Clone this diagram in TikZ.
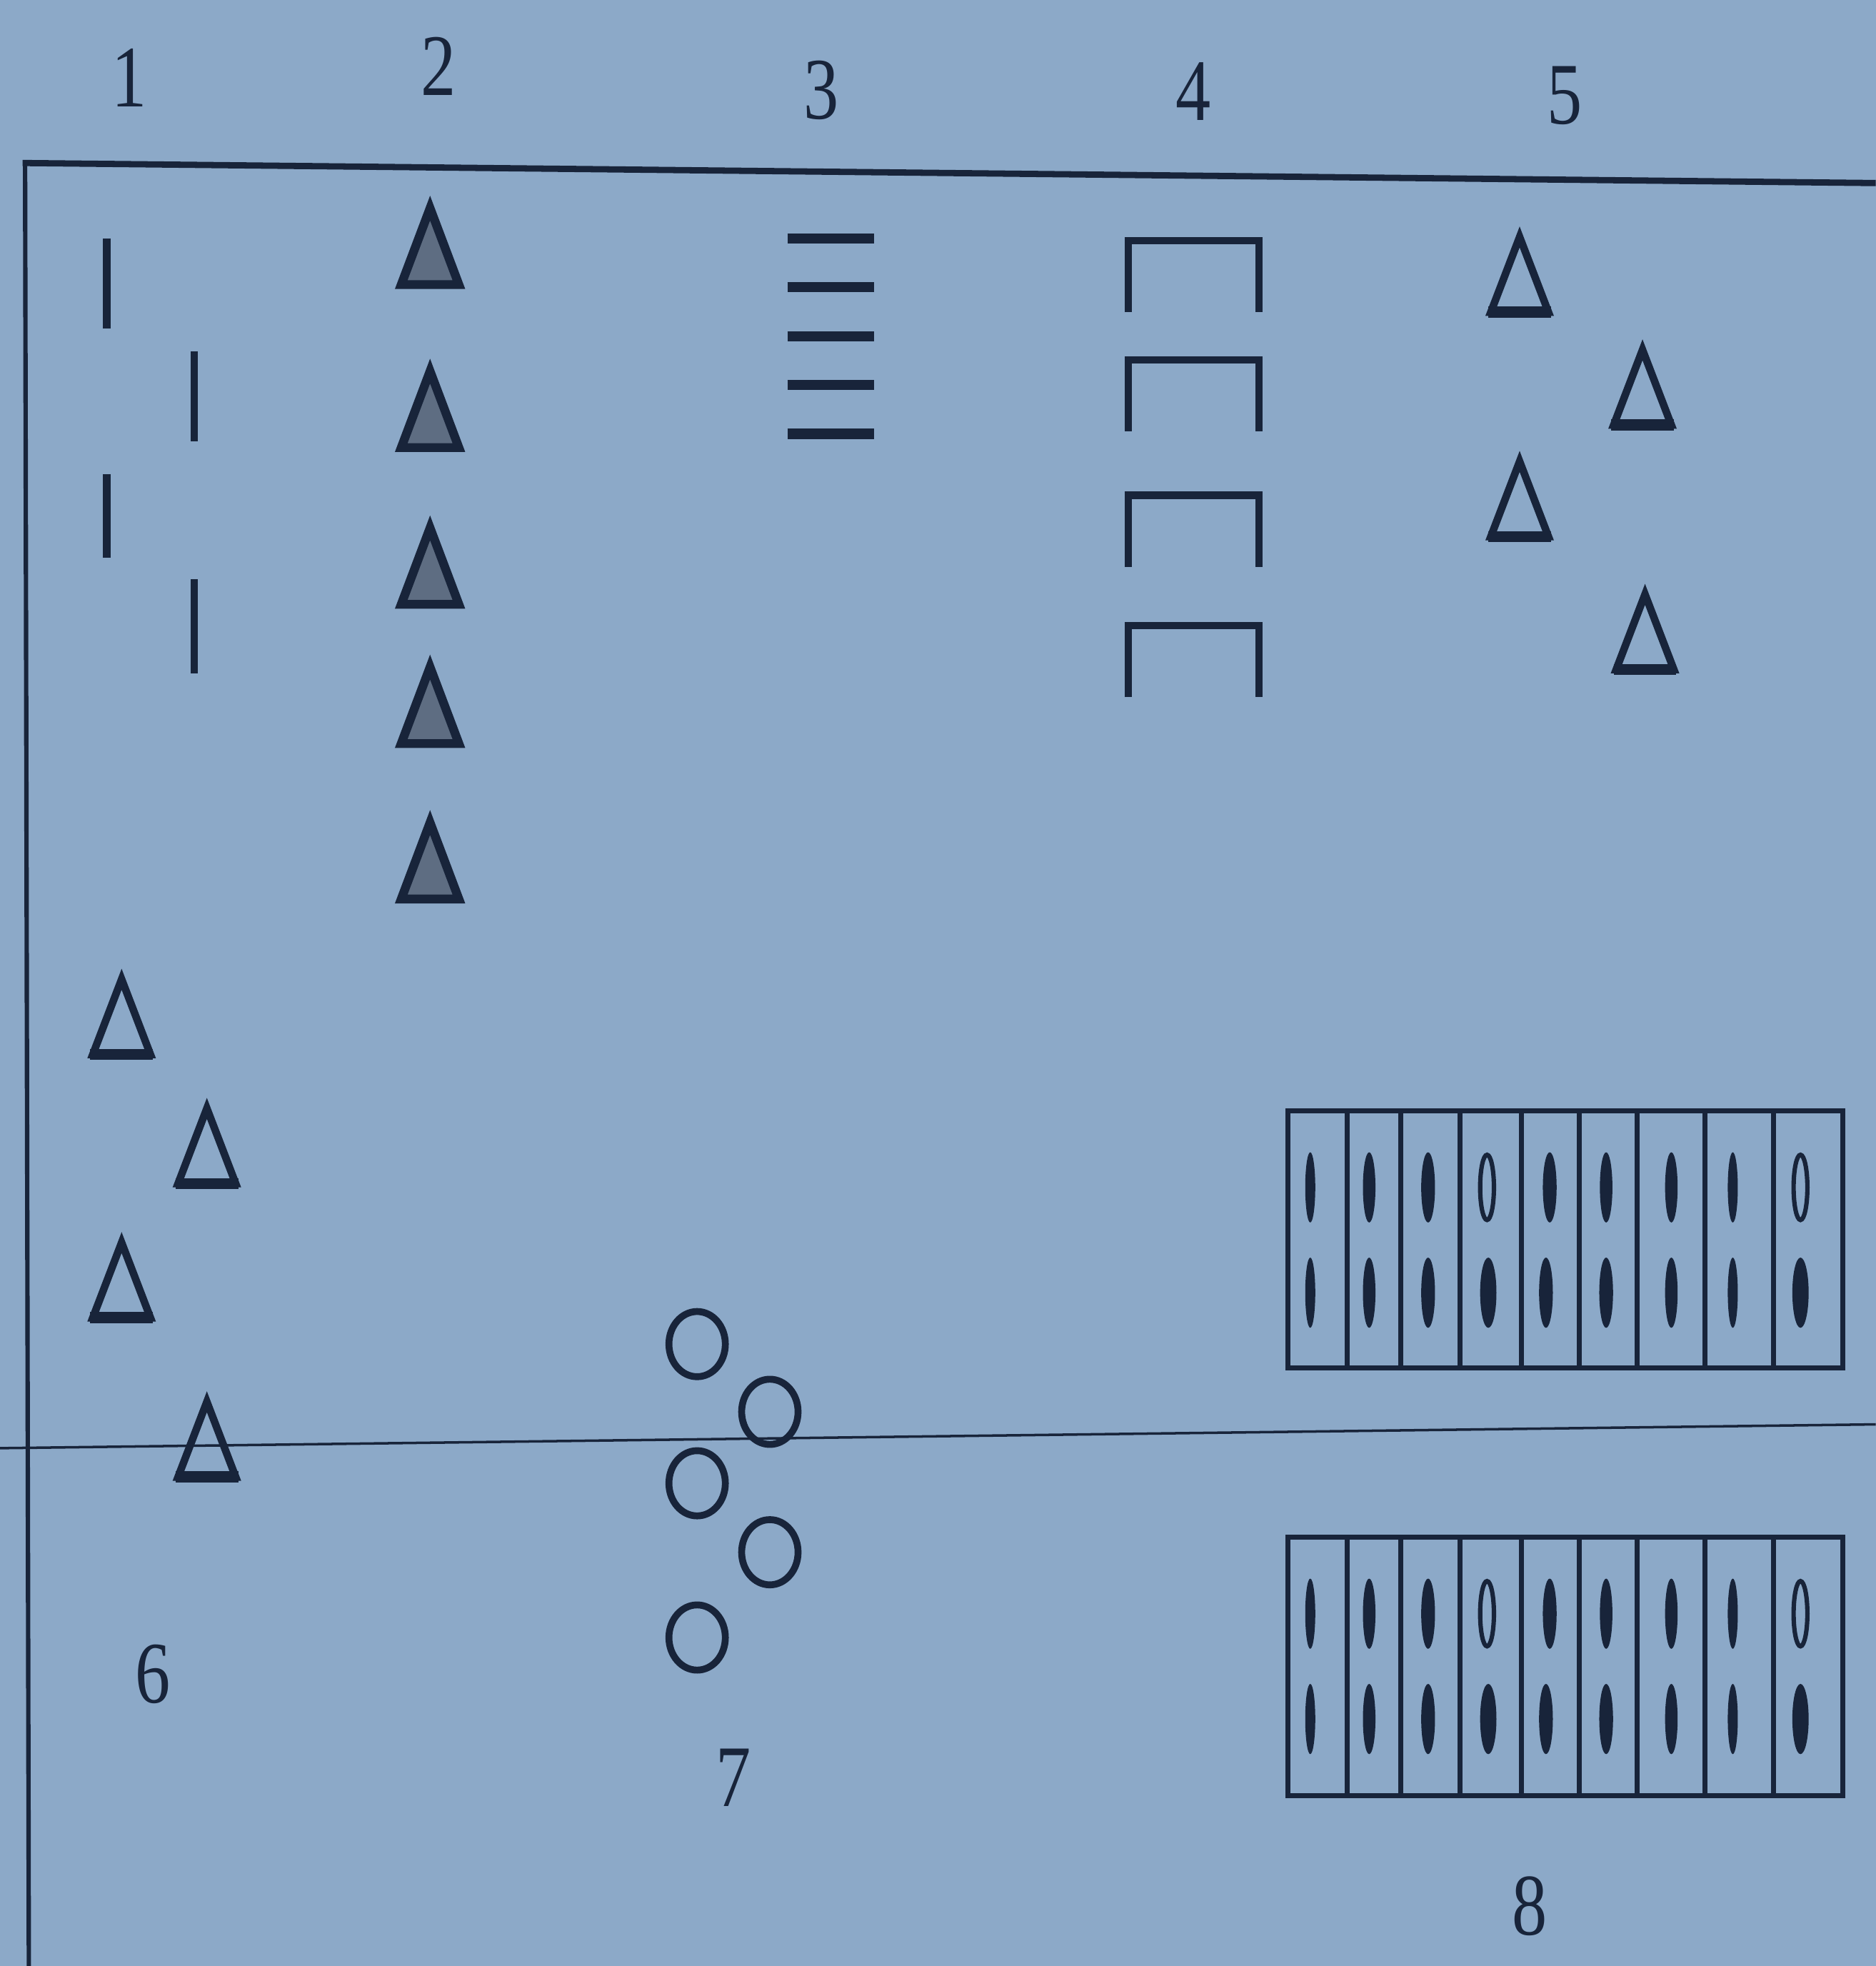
\documentclass[tikz,border=0pt]{standalone}
\usepackage{fontspec}
\setmainfont{Liberation Serif}
\definecolor{bg}{HTML}{8CA9C8}
\definecolor{ink}{HTML}{18243A}
\definecolor{trifill}{HTML}{5E6D82}
\begin{document}
\begin{tikzpicture}[x=1pt,y=-1pt,
  lab/.style={font=\fontsize{70}{70}\selectfont, text=ink, inner sep=0pt},
  frameline/.style={draw=ink, line width=5pt},
  thinline/.style={draw=ink, line width=2pt},
  vbar/.style={draw=ink, line width=6pt},
  hbar/.style={draw=ink, line width=8pt},
  capline/.style={draw=ink, line width=6pt, line join=miter},
  opentri/.style={draw=ink, line width=6pt, line join=miter},
  tribase/.style={draw=ink, line width=9pt},
  filltri/.style={draw=ink, fill=trifill, line width=7pt, line join=miter},
  gridline/.style={draw=ink, line width=4pt},
  seedfill/.style={fill=ink},
  seedopen/.style={draw=ink, line width=3.5pt},
  circ/.style={draw=ink, line width=5.5pt},
  otri/.pic={\draw[opentri] (-23,29) -- (0,-31) -- (23,29) -- cycle;
             \draw[tribase] (-25,29) -- (25,29);},
  ftri/.pic={\draw[filltri] (-23,30) -- (0,-31) -- (23,30) -- cycle;},
  capshape/.pic={\draw[capline] (-52,57) -- (-52,0) -- (52,0) -- (52,57);}
]
\fill[bg] (0,0) rectangle (1496,1568);
\path[use as bounding box] (0,0) rectangle (1496,1568);

% frame
\draw[frameline] (18,130) -- (1496,146);
\draw[draw=ink, line width=3.5pt] (20,128) -- (23,1568);
\draw[thinline] (0,1155) -- (1496,1136);

% column labels
\node[lab] (l1) at (103,62) {\scalebox{0.8}[1]{1}};
\node[lab] (l2) at (350,53) {\scalebox{0.8}[1]{2}};
\node[lab] (l3) at (655,72) {\scalebox{0.8}[1]{3}};
\node[lab] (l4) at (952,73) {\scalebox{0.8}[1]{4}};
\node[lab] (l5) at (1248,76) {\scalebox{0.8}[1]{5}};
\node[lab] (l6) at (122,1335) {\scalebox{0.8}[1]{6}};
\node[lab] (l7) at (585,1418) {\scalebox{0.8}[1]{7}};
\node[lab] (l8) at (1220,1520) {\scalebox{0.8}[1]{8}};

% column 1: staggered vertical bars
\draw[vbar] (85,190) -- (85,262);
\draw[vbar] (155,280) -- (155,352);
\draw[vbar] (85,378) -- (85,445);
\draw[vbar] (155,462) -- (155,537);

% column 2: filled triangles
\foreach \yy in {197,327,452,563,687} \pic at (343,\yy) {ftri};

% column 3: horizontal bars
\foreach \yy in {190,229,268,307,346} \draw[hbar] (628,\yy) -- (697,\yy);

% column 4: cap shapes
\foreach \yy in {192,287,395,499} \pic at (952,\yy) {capshape};

% column 5: staggered open triangles
\pic at (1212,220) {otri};
\pic at (1310,310) {otri};
\pic at (1212,399) {otri};
\pic at (1312,505) {otri};

% group 6: staggered open triangles
\pic at (97,812) {otri};
\pic at (165,915) {otri};
\pic at (97,1022) {otri};
\pic at (165,1149) {otri};

% group 7: circles
\foreach \cx/\cy in {556/1072,614/1126,556/1183,614/1238,556/1306}
  \draw[circ] (\cx,\cy) ellipse [x radius=22.5, y radius=26];

% group 8: two grids
\foreach \gt/\gb in {886/1091,1226/1432}{
  \draw[gridline] (1027,\gt) rectangle (1470,\gb);
  \foreach \xx in {1074.6,1117,1164.4,1213.2,1259.3,1305.5,1359.7,1414.5}
    \draw[gridline] (\xx,\gt) -- (\xx,\gb);
  \pgfmathsetmacro{\ra}{\gt+61}
  \pgfmathsetmacro{\rb}{\gt+145}
  % top row
  \foreach \xx/\w in {1045/4,1092/5,1139/5.5,1236/5.5,1281/5,1333/5,1382/4}
    \fill[seedfill] (\xx,\ra) ellipse [x radius=\w, y radius=28];
  \draw[seedopen] (1186,\ra) ellipse [x radius=5.5, y radius=26];
  \draw[seedopen] (1436,\ra) ellipse [x radius=5.5, y radius=26];
  % bottom row
  \foreach \xx/\w in {1045/4,1092/5,1139/5.5,1187/6.5,1233/5.5,1281/5.5,1333/5,1382/4,1436/6.5}
    \fill[seedfill] (\xx,\rb) ellipse [x radius=\w, y radius=28];
}
\end{tikzpicture}
\end{document}
